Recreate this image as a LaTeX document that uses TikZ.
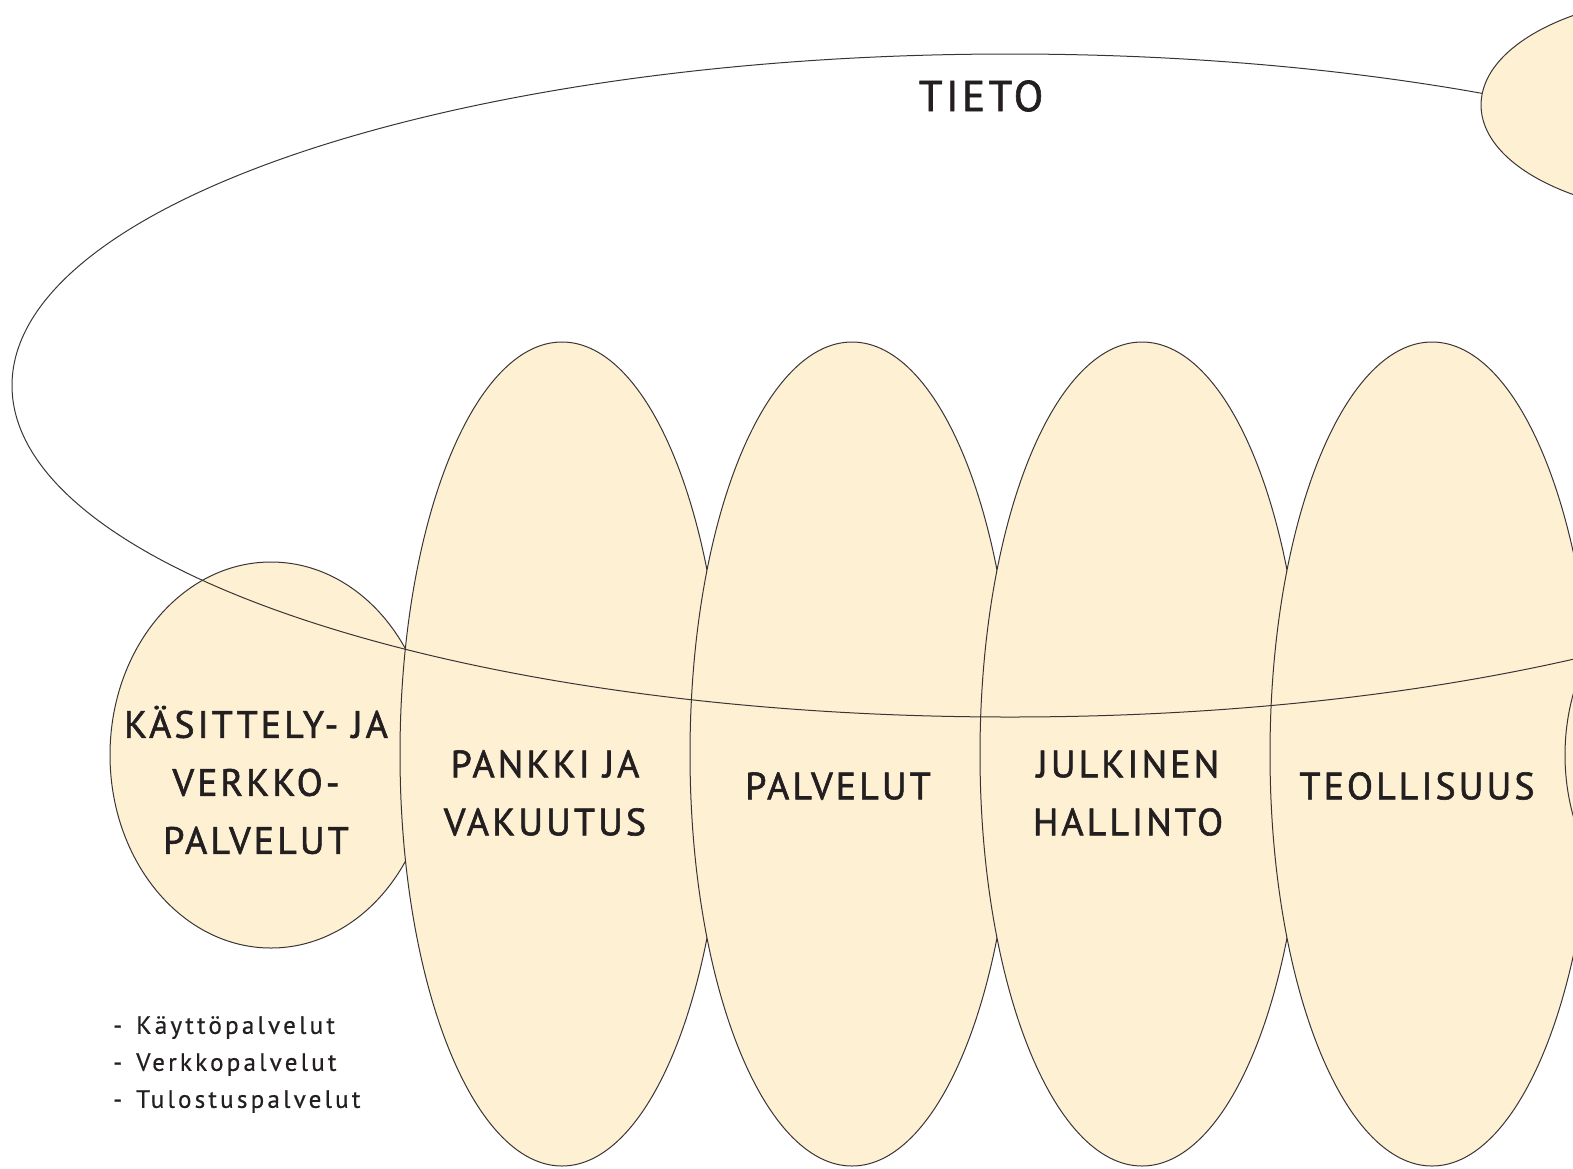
\documentclass[tikz,border=0pt]{standalone}
\usepackage{fontspec}
\setmainfont{PT Sans}[LetterSpace=8,FakeBold=1.5]
\newfontfamily\listfont{PT Sans}[LetterSpace=13,FakeBold=0.6]
\definecolor{cream}{HTML}{FEF0D3}
\definecolor{ink}{HTML}{231F20}
\begin{document}
\begin{tikzpicture}[x=1pt,y=-1pt,
  blob/.style={fill=cream,draw=ink!90,line width=1pt},
  rim/.style={draw=ink!90,line width=1pt},
  lbl/.style={text=ink,font=\fontsize{38}{58}\selectfont,align=center,inner sep=0pt},
  small/.style={text=ink,font=\listfont\fontsize{25}{37}\selectfont,align=left,inner sep=0pt,anchor=north west}]
\useasboundingbox (0,0) rectangle (1573,1168);
\clip (0,0) rectangle (1573,1168);
% sector shapes, each drawn over the previous one
\draw[blob] (271,755) ellipse [x radius=161, y radius=193];
\draw[blob] (562,754) ellipse [x radius=162, y radius=412];
\draw[blob] (852,754) ellipse [x radius=162, y radius=412];
\draw[blob] (1142,754) ellipse [x radius=162, y radius=412];
\draw[blob] (1432,754) ellipse [x radius=162, y radius=412];
\draw[blob] (1726,755) ellipse [x radius=161, y radius=193];
% knowledge ellipse outline
\draw[rim] (1010,385.5) ellipse [x radius=998, y radius=331.5];
% top-right ellipse
\draw[blob] (1701,105) ellipse [x radius=220, y radius=110];
% labels
\node[lbl,font=\fontsize{43}{58}\selectfont] (tieto) at (981,96) {TIETO};
\node[lbl] (kasittely) at (256,780) {KÄSITTELY- JA\\VERKKO-\\PALVELUT};
\node[lbl] (pankki) at (545,793) {PANKKI JA\\VAKUUTUS};
\node[lbl] (palvelut) at (838,786) {PALVELUT};
\node[lbl] (julkinen) at (1128,793) {JULKINEN\\HALLINTO};
\node[lbl] (teollisuus) at (1417,786) {TEOLLISUUS};
\node[small] (lista) at (113,1016) {-\, Käyttöpalvelut\\-\, Verkkopalvelut\\-\, Tulostuspalvelut};
\end{tikzpicture}
\end{document}
